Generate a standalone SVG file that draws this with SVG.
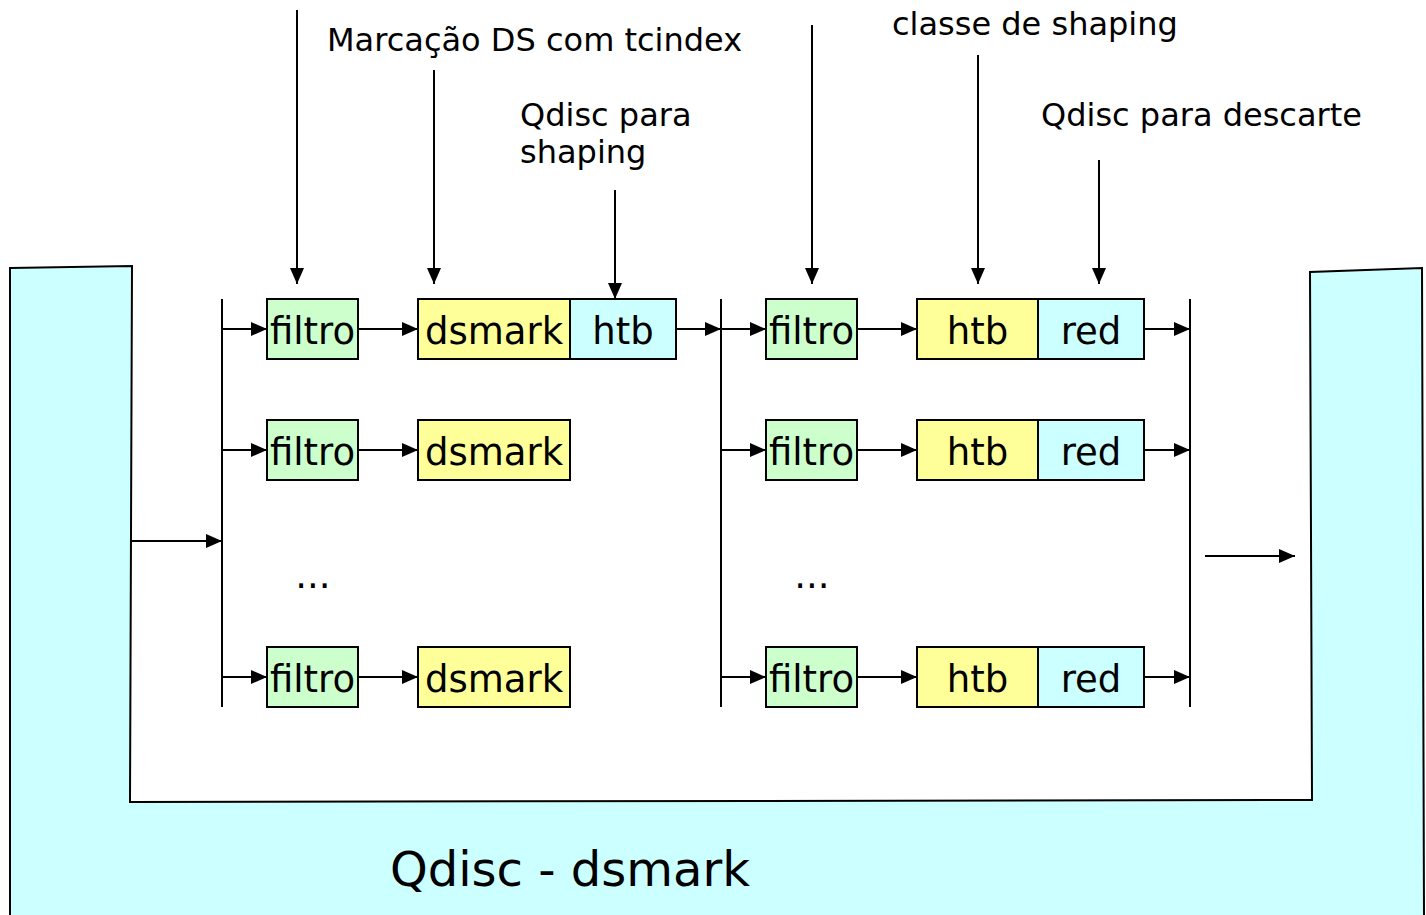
<svg xmlns="http://www.w3.org/2000/svg" width="1426" height="915" viewBox="0 0 1426 915">
  <style>
    text { font-family: "DejaVu Sans", "Liberation Sans", sans-serif; fill: #000; }
    .box { stroke: #000; stroke-width: 2; }
    .green { fill: #CCFFCC; }
    .yellow { fill: #FFFF99; }
    .cyan { fill: #CCFFFF; }
    .lbl { font-size: 37px; text-anchor: middle; }
    .note { font-size: 32px; }
    .line { stroke: #000; stroke-width: 2; fill: none; }
    .arr { stroke: #000; stroke-width: 2; fill: none; marker-end: url(#ah); }
  </style>
  <defs>
    <marker id="ah" viewBox="0 0 16 14" refX="16" refY="7" markerWidth="16" markerHeight="14" markerUnits="userSpaceOnUse" orient="auto">
      <path d="M0,0 L16,7 L0,14 Z" fill="#000"/>
    </marker>
  </defs>

  <rect width="1426" height="915" fill="#fff"/>

  <!-- dsmark qdisc container -->
  <g id="container">
    <path d="M10,268 L132,266 L130,802 L1312,800 L1310,272 L1422,268 L1424,918 L10,918 Z" fill="#CCFFFF" stroke="#000" stroke-width="2"/>
    <text x="390" y="886" style="font-size:48px">Qdisc - dsmark</text>
  </g>

  <!-- connectors -->
  <g id="connectors">
    <!-- splitter bars -->
    <line class="line" x1="222" y1="299" x2="222" y2="707"/>
    <line class="line" x1="721" y1="299" x2="721" y2="707"/>
    <line class="line" x1="1190" y1="299" x2="1190" y2="707"/>
    <!-- in / out -->
    <line class="arr" x1="132" y1="541" x2="222" y2="541"/>
    <line class="arr" x1="1205" y1="556" x2="1295" y2="556"/>
    <!-- left section -->
    <line class="arr" x1="222" y1="329" x2="267" y2="329"/>
    <line class="arr" x1="222" y1="450" x2="267" y2="450"/>
    <line class="arr" x1="222" y1="677" x2="267" y2="677"/>
    <line class="arr" x1="358" y1="329" x2="418" y2="329"/>
    <line class="arr" x1="358" y1="450" x2="418" y2="450"/>
    <line class="arr" x1="358" y1="677" x2="418" y2="677"/>
    <line class="arr" x1="676" y1="329" x2="721" y2="329"/>
    <!-- right section -->
    <line class="arr" x1="721" y1="329" x2="766" y2="329"/>
    <line class="arr" x1="721" y1="450" x2="766" y2="450"/>
    <line class="arr" x1="721" y1="677" x2="766" y2="677"/>
    <line class="arr" x1="857" y1="329" x2="917" y2="329"/>
    <line class="arr" x1="857" y1="450" x2="917" y2="450"/>
    <line class="arr" x1="857" y1="677" x2="917" y2="677"/>
    <line class="arr" x1="1144" y1="329" x2="1190" y2="329"/>
    <line class="arr" x1="1144" y1="450" x2="1190" y2="450"/>
    <line class="arr" x1="1144" y1="677" x2="1190" y2="677"/>
    <!-- annotation pointers -->
    <line class="arr" x1="297" y1="10" x2="297" y2="284"/>
    <line class="arr" x1="434" y1="70" x2="434" y2="284"/>
    <line class="arr" x1="615" y1="190" x2="615" y2="299"/>
    <line class="arr" x1="812" y1="25" x2="812" y2="284"/>
    <line class="arr" x1="978" y1="55" x2="978" y2="284"/>
    <line class="arr" x1="1099" y1="160" x2="1099" y2="284"/>
  </g>

  <!-- left section nodes -->
  <g id="filtro-l1"><rect class="box green" x="267" y="299" width="91" height="60"/><text class="lbl" x="312.5" y="344">filtro</text></g>
  <g id="dsmark-l1"><rect class="box yellow" x="418" y="299" width="152" height="60"/><text class="lbl" x="494" y="344">dsmark</text></g>
  <g id="htb-l1"><rect class="box cyan" x="570" y="299" width="106" height="60"/><text class="lbl" x="623" y="344">htb</text></g>
  <g id="filtro-l2"><rect class="box green" x="267" y="420" width="91" height="60"/><text class="lbl" x="312.5" y="465">filtro</text></g>
  <g id="dsmark-l2"><rect class="box yellow" x="418" y="420" width="152" height="60"/><text class="lbl" x="494" y="465">dsmark</text></g>
  <g id="dots-l"><text class="lbl" x="313" y="588">...</text></g>
  <g id="filtro-l3"><rect class="box green" x="267" y="647" width="91" height="60"/><text class="lbl" x="312.5" y="692">filtro</text></g>
  <g id="dsmark-l3"><rect class="box yellow" x="418" y="647" width="152" height="60"/><text class="lbl" x="494" y="692">dsmark</text></g>

  <!-- right section nodes -->
  <g id="filtro-r1"><rect class="box green" x="766" y="299" width="91" height="60"/><text class="lbl" x="811.5" y="344">filtro</text></g>
  <g id="htb-r1"><rect class="box yellow" x="917" y="299" width="121" height="60"/><text class="lbl" x="977.5" y="344">htb</text></g>
  <g id="red-r1"><rect class="box cyan" x="1038" y="299" width="106" height="60"/><text class="lbl" x="1091" y="344">red</text></g>
  <g id="filtro-r2"><rect class="box green" x="766" y="420" width="91" height="60"/><text class="lbl" x="811.5" y="465">filtro</text></g>
  <g id="htb-r2"><rect class="box yellow" x="917" y="420" width="121" height="60"/><text class="lbl" x="977.5" y="465">htb</text></g>
  <g id="red-r2"><rect class="box cyan" x="1038" y="420" width="106" height="60"/><text class="lbl" x="1091" y="465">red</text></g>
  <g id="dots-r"><text class="lbl" x="812" y="588">...</text></g>
  <g id="filtro-r3"><rect class="box green" x="766" y="647" width="91" height="60"/><text class="lbl" x="811.5" y="692">filtro</text></g>
  <g id="htb-r3"><rect class="box yellow" x="917" y="647" width="121" height="60"/><text class="lbl" x="977.5" y="692">htb</text></g>
  <g id="red-r3"><rect class="box cyan" x="1038" y="647" width="106" height="60"/><text class="lbl" x="1091" y="692">red</text></g>

  <!-- annotations -->
  <g id="notes">
    <text class="note" x="327" y="51">Marcação DS com tcindex</text>
    <text class="note" x="520" y="126">Qdisc para</text>
    <text class="note" x="520" y="163">shaping</text>
    <text class="note" x="892" y="35">classe de shaping</text>
    <text class="note" x="1041" y="126">Qdisc para descarte</text>
  </g>
</svg>
